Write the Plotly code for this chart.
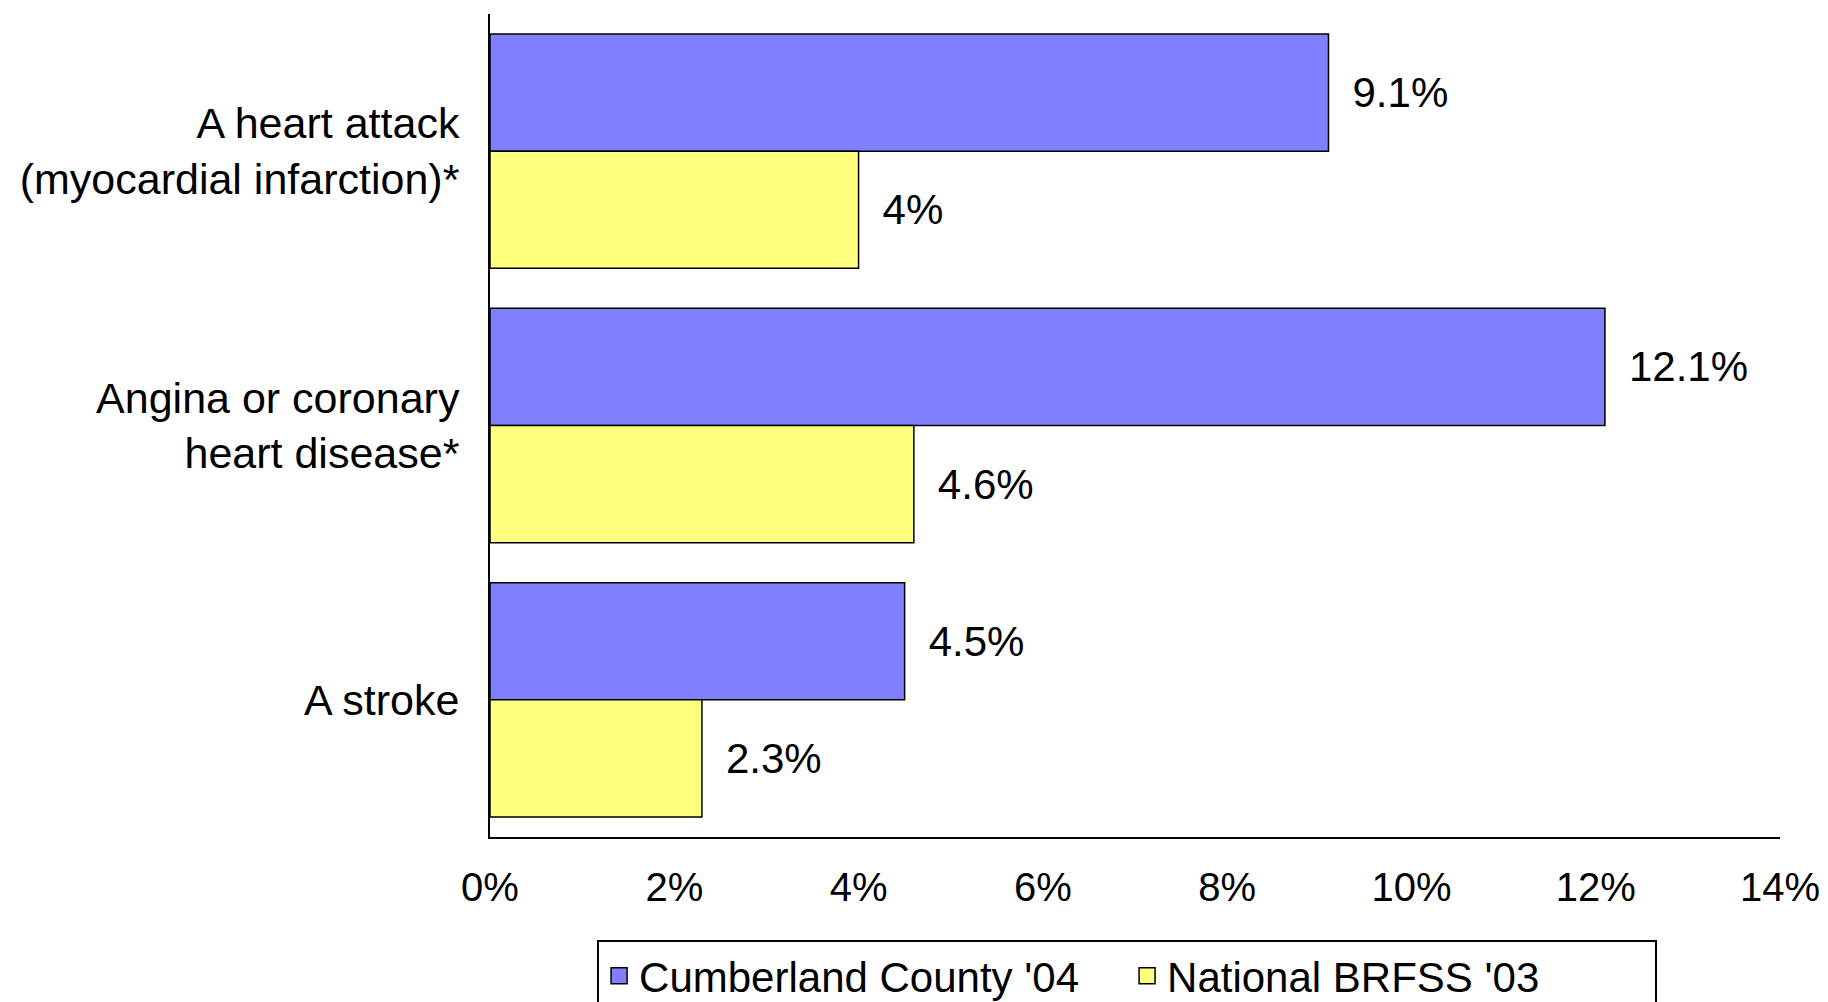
import plotly.graph_objects as go

categories = ["A heart attack<br>(myocardial infarction)*",
              "Angina or coronary<br>heart disease*",
              "A stroke"]
series_names = ["Cumberland County '04", "National BRFSS '03"]
series_colors = ["#8080FF", "#FFFF80"]
cumberland = [9.1, 12.1, 4.5]
national = [4.0, 4.6, 2.3]
labels_cumberland = ["9.1%", "12.1%", "4.5%"]
labels_national = ["4%", "4.6%", "2.3%"]
tick_vals = [0, 2, 4, 6, 8, 10, 12, 14]
tick_text = ["0%", "2%", "4%", "6%", "8%", "10%", "12%", "14%"]

regular = "Liberation Sans, Arial, sans-serif"
pad = "\u2002"

fig = go.Figure()
for vals, labs, name, col in [(cumberland, labels_cumberland, series_names[0], series_colors[0]),
                              (national, labels_national, series_names[1], series_colors[1])]:
    fig.add_trace(go.Bar(
        y=categories, x=vals, name=name, orientation="h", showlegend=False,
        marker=dict(color=col, line=dict(color="black", width=1.5)),
        text=[pad + t for t in labs], textposition="outside",
        textfont=dict(family=regular, size=42, color="black"), cliponaxis=False))

# legend proxies (larger square swatches)
for name, col in zip(series_names, series_colors):
    fig.add_trace(go.Scatter(
        x=[None], y=[None], mode="markers", name=name, showlegend=True,
        marker=dict(symbol="square", size=16, color=col,
                    line=dict(color="black", width=1.5))))

fig.update_layout(
    width=1828, height=1002,
    margin=dict(l=490, r=48, t=14, b=165, autoexpand=False),
    paper_bgcolor="white", plot_bgcolor="white",
    barmode="group", bargap=0.146, bargroupgap=0,
    showlegend=True,
    legend=dict(orientation="h", x=0.083, xanchor="left", y=-0.125, yanchor="top",
                bordercolor="black", borderwidth=2,
                font=dict(family=regular, size=42, color="black"),
                traceorder="normal", entrywidth=483, entrywidthmode="pixels",
                itemsizing="trace", itemwidth=30),
    xaxis=dict(range=[0, 14], tickvals=tick_vals, ticktext=tick_text,
               showgrid=False, zeroline=False, showline=True, linecolor="black",
               linewidth=2, ticks="", ticklabelstandoff=14,
               tickfont=dict(family=regular, size=40, color="black")),
    yaxis=dict(autorange="reversed", showgrid=False, zeroline=False,
               showline=True, linecolor="black", linewidth=2, ticks="",
               ticklabelstandoff=20,
               tickfont=dict(family=regular, size=43, color="black")),
)

fig.write_html("out.html", config={"displayModeBar": False},
               post_script="document.body.style.margin='0';document.body.style.overflow='hidden';")
